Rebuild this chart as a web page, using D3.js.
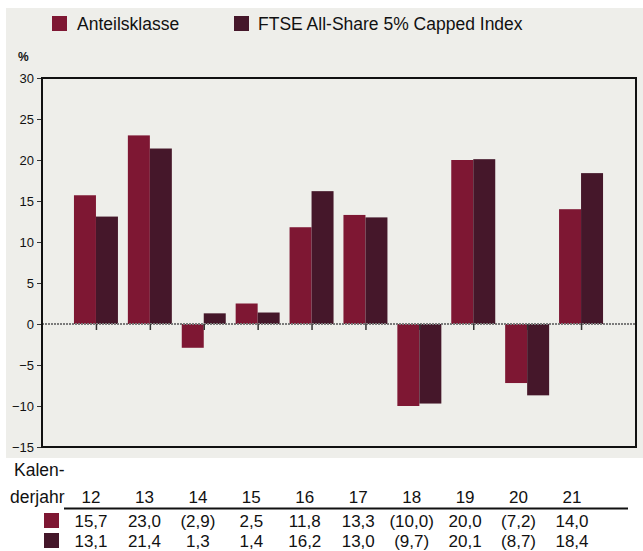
<!DOCTYPE html>
<html>
<head>
<meta charset="utf-8">
<script src="https://cdn.jsdelivr.net/npm/d3@7"></script>
<style>
  body { margin: 0; background: #fff; }
  svg text { font-family: "Liberation Sans Narrow", "Arial Narrow", "Liberation Sans", sans-serif; fill: #111; }
</style>
</head>
<body>
<div id="chart"></div>
<script>
const years = ['12', '13', '14', '15', '16', '17', '18', '19', '20', '21'];
const seriesNames = ['Anteilsklasse', 'FTSE All-Share 5% Capped Index'];
const shareClass = [15.7, 23.0, -2.9, 2.5, 11.8, 13.3, -10.0, 20.0, -7.2, 14.0];
const index = [13.1, 21.4, 1.3, 1.4, 16.2, 13.0, -9.7, 20.1, -8.7, 18.4];
const yTicks = [30, 25, 20, 15, 10, 5, 0, -5, -10, -15];

const COLORS = ['#7e1733', '#45172a'];

const width = 643, height = 551;
const plot = { left: 42, right: 636, top: 78, bottom: 447 };

const svg = d3.select('#chart')
  .append('svg')
  .attr('width', width)
  .attr('height', height);

// grey panel behind the chart
svg.append('rect')
  .attr('x', 6).attr('y', 8)
  .attr('width', width - 6).attr('height', 450)
  .attr('fill', '#eeeeea');

// legend
const legend = svg.append('g');
[[52, 77], [234, 258]].forEach(([sx, tx], i) => {
  legend.append('rect')
    .attr('x', sx).attr('y', 16).attr('width', 15).attr('height', 15)
    .attr('fill', COLORS[i]);
  legend.append('text')
    .attr('x', tx).attr('y', 30)
    .attr('font-size', 17.5)
    .text(seriesNames[i]);
});

const y = d3.scaleLinear().domain([-15, 30]).range([plot.bottom, plot.top]);
const x = d3.scaleBand().domain(years).range([69, 608])
  .paddingInner(0.184).paddingOuter(0.092);
const xs = d3.scaleBand().domain([0, 1]).range([0, x.bandwidth()]);

svg.append('text')
  .attr('x', 18).attr('y', 61)
  .attr('font-size', 12).attr('font-weight', 'bold')
  .text('%');

// y axis
const yAxis = svg.append('g')
  .attr('transform', `translate(${plot.left},0)`)
  .call(d3.axisLeft(y).tickValues(yTicks).tickSize(5).tickPadding(3).tickFormat(d3.format('d')));
yAxis.select('.domain').remove();
yAxis.selectAll('line').attr('stroke', '#333');
yAxis.selectAll('text').attr('font-size', 13).attr('font-family', null).attr('fill', '#111');

// bars
const groups = svg.append('g')
  .selectAll('g')
  .data(years.map((yr, i) => ({ yr, vals: [shareClass[i], index[i]] })))
  .join('g')
  .attr('transform', d => `translate(${x(d.yr)},0)`);

groups.selectAll('rect')
  .data(d => d.vals)
  .join('rect')
  .attr('x', (d, i) => xs(i))
  .attr('width', xs.bandwidth())
  .attr('y', d => y(Math.max(0, d)))
  .attr('height', d => Math.abs(y(d) - y(0)))
  .attr('fill', (d, i) => COLORS[i]);

// dotted zero line
svg.append('line')
  .attr('x1', plot.left).attr('x2', plot.right)
  .attr('y1', y(0)).attr('y2', y(0))
  .attr('stroke', '#7a7a7a')
  .attr('stroke-width', 2)
  .attr('stroke-dasharray', '2,1');

// ticks on the zero line at group centres
const xAxis = svg.append('g')
  .attr('transform', `translate(0,${y(0)})`)
  .call(d3.axisBottom(d3.scalePoint().domain(years).range([x(years[0]) + x.bandwidth() / 2, x(years[9]) + x.bandwidth() / 2])).tickSize(6).tickFormat(''));
xAxis.select('.domain').remove();
xAxis.selectAll('line').attr('stroke', '#333').attr('stroke-width', 1.5);

// frame
svg.append('rect')
  .attr('x', plot.left).attr('y', plot.top)
  .attr('width', plot.right - plot.left).attr('height', plot.bottom - plot.top)
  .attr('fill', 'none')
  .attr('stroke', '#111')
  .attr('stroke-width', 2);

// data table below
const tx = d3.scalePoint().domain(years).range([91, 572]);
const table = svg.append('g').attr('font-size', 17);

table.append('text').attr('x', 14).attr('y', 476).attr('font-size', 17.5).text('Kalen-');
table.append('text').attr('x', 10).attr('y', 503).attr('font-size', 17.5).text('derjahr');

table.selectAll('.yr')
  .data(years)
  .join('text')
  .attr('class', 'yr')
  .attr('x', d => tx(d)).attr('y', 503)
  .attr('text-anchor', 'middle')
  .attr('font-size', 17)
  .text(d => d);

table.append('line')
  .attr('x1', 64).attr('x2', 628)
  .attr('y1', 508.5).attr('y2', 508.5)
  .attr('stroke', '#111').attr('stroke-width', 2);

const fmt = v => {
  const s = Math.abs(v).toFixed(1).replace('.', ',');
  return v < 0 ? `(${s})` : s;
};

[shareClass, index].forEach((vals, i) => {
  const rowY = 527 + i * 20;
  table.append('rect')
    .attr('x', 44).attr('y', rowY - 14)
    .attr('width', 15).attr('height', 15)
    .attr('fill', COLORS[i]);
  table.selectAll(`.row${i}`)
    .data(vals)
    .join('text')
    .attr('class', `row${i}`)
    .attr('x', (d, j) => tx(years[j])).attr('y', rowY)
    .attr('text-anchor', 'middle')
    .attr('font-size', 17)
    .text(fmt);
});
</script>
</body>
</html>
